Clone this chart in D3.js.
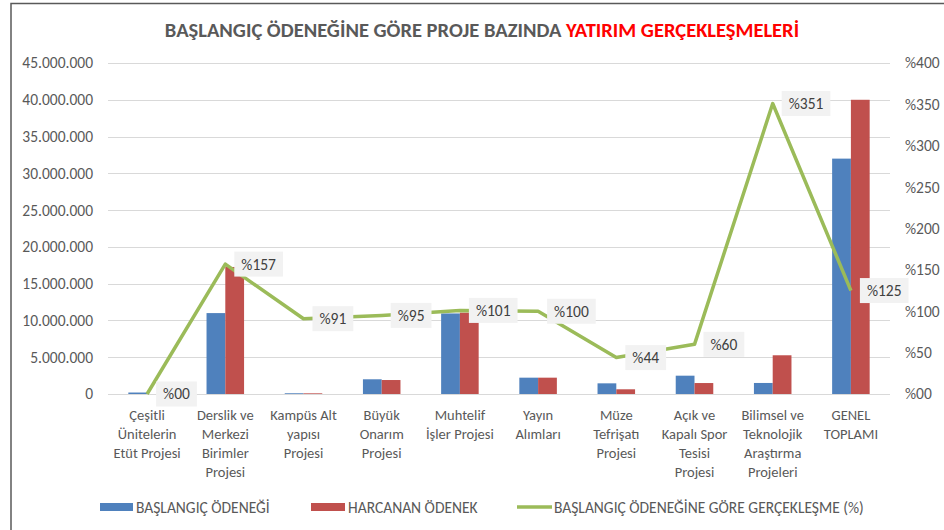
<!DOCTYPE html>
<html>
<head>
<meta charset="utf-8">
<script src="https://cdn.jsdelivr.net/npm/d3@7"></script>
<style>
  body { margin: 0; background: #fff; }
  svg text { font-family: Carlito, Lato, "Open Sans", sans-serif; }
</style>
</head>
<body>
<div id="chart"></div>
<script>
// kategoriler (satır kırılımları resimdeki gibi)
const categories = [
  ["Çeşitli", "Ünitelerin", "Etüt Projesi"],
  ["Derslik ve", "Merkezi", "Birimler", "Projesi"],
  ["Kampüs Alt", "yapısı", "Projesi"],
  ["Büyük", "Onarım", "Projesi"],
  ["Muhtelif", "İşler Projesi"],
  ["Yayın", "Alımları"],
  ["Müze", "Tefrişatı", "Projesi"],
  ["Açık ve", "Kapalı Spor", "Tesisi", "Projesi"],
  ["Bilimsel ve", "Teknolojik", "Araştırma", "Projeleri"],
  ["GENEL", "TOPLAMI"],
];
const baslangic = [200000, 11000000, 100000, 2000000, 10950000, 2220000, 1450000, 2490000, 1500000, 32000000];
const harcanan = [0, 17270000, 91000, 1900000, 11060000, 2220000, 640000, 1490000, 5265000, 40000000];
const yuzde = [0, 157, 91, 95, 101, 100, 44, 60, 351, 125];
const leftTicks = [0, 5e6, 10e6, 15e6, 20e6, 25e6, 30e6, 35e6, 40e6, 45e6];
const rightTicks = [0, 50, 100, 150, 200, 250, 300, 350, 400];
const legendNames = ["BAŞLANGIÇ ÖDENEĞİ", "HARCANAN ÖDENEK", "BAŞLANGIÇ ÖDENEĞİNE GÖRE GERÇEKLEŞME (%)"];

const W = 944, H = 530;
const BLUE = "#4f81bd", RED = "#c0504d", GREEN = "#9bbb59", GREY = "#595959";

const svg = d3.select("#chart").append("svg").attr("width", W).attr("height", H);

// çerçeve
svg.append("path")
  .attr("d", "M11,540 L11,3.5 L950,3.5")
  .attr("fill", "none").attr("stroke", "#595959").attr("stroke-width", 1.5);

// başlık
const title = svg.append("text")
  .attr("x", 482).attr("y", 37)
  .attr("text-anchor", "middle")
  .attr("font-size", 20.5).attr("font-weight", "bold");
title.append("tspan").attr("fill", GREY).text("BAŞLANGIÇ ÖDENEĞİNE GÖRE PROJE BAZINDA ");
title.append("tspan").attr("fill", "#ff0000").text("YATIRIM GERÇEKLEŞMELERİ");

const idx = d3.range(categories.length);
const x = d3.scaleBand().domain(idx).range([108, 890]);
const y = d3.scaleLinear().domain([0, 45e6]).range([394, 63]);
const y2 = d3.scaleLinear().domain([0, 400]).range([394, 63]);
const sub = d3.scaleBand().domain(["b", "h"]).range([0, x.bandwidth() * 0.48]);
const off = (x.bandwidth() - x.bandwidth() * 0.48) / 2;

const fmt = d3.formatLocale({ decimal: ",", thousands: ".", grouping: [3], currency: ["", ""] }).format(",d");

// ızgara
svg.append("g").selectAll("line").data(leftTicks).join("line")
  .attr("x1", 108).attr("x2", 890)
  .attr("y1", d => Math.round(y(d)) + 0.5).attr("y2", d => Math.round(y(d)) + 0.5)
  .attr("stroke", "#d9d9d9").attr("stroke-width", 1);

// eksenler
const leftAxis = svg.append("g").attr("transform", "translate(100,0)")
  .call(d3.axisLeft(y).tickValues(leftTicks).tickFormat(fmt).tickSize(0).tickPadding(7));
const rightAxis = svg.append("g").attr("transform", "translate(898,0)")
  .call(d3.axisRight(y2).tickValues(rightTicks).tickFormat(d => "%" + (d === 0 ? "00" : d)).tickSize(0).tickPadding(7));
[leftAxis, rightAxis].forEach(a => {
  a.select(".domain").remove();
  a.selectAll("text").attr("font-size", 15.5).attr("fill", GREY);
});

// çubuklar
const groups = svg.append("g").selectAll("g").data(idx).join("g")
  .attr("transform", i => `translate(${x(i) + off},0)`);
groups.append("rect")
  .attr("x", sub("b")).attr("width", sub.bandwidth())
  .attr("y", i => y(baslangic[i])).attr("height", i => y(0) - y(baslangic[i]))
  .attr("fill", BLUE);
groups.append("rect")
  .attr("x", sub("h")).attr("width", sub.bandwidth())
  .attr("y", i => y(harcanan[i])).attr("height", i => y(0) - y(harcanan[i]))
  .attr("fill", RED);

// çizgi
const cx = i => x(i) + x.bandwidth() / 2;
svg.append("path")
  .datum(idx)
  .attr("d", d3.line().x(cx).y(i => y2(yuzde[i])))
  .attr("fill", "none").attr("stroke", GREEN).attr("stroke-width", 3.5)
  .attr("stroke-linejoin", "round");

// veri etiketleri
const labels = svg.append("g").selectAll("g").data(idx).join("g")
  .attr("transform", i => `translate(${cx(i) + 9},${y2(yuzde[i])})`);
labels.append("rect").attr("fill", "#f2f2f2").attr("y", -12.5).attr("height", 25);
labels.append("text")
  .attr("x", 7).attr("dy", "0.35em")
  .attr("font-size", 15.5).attr("fill", "#404040")
  .text(i => "%" + (yuzde[i] === 0 ? "00" : yuzde[i]));
labels.each(function () {
  const g = d3.select(this);
  const w = g.select("text").node().getComputedTextLength();
  g.select("rect").attr("width", w + 14);
});

// kategori etiketleri
const cat = svg.append("g").selectAll("text").data(idx).join("text")
  .attr("x", cx).attr("y", 420)
  .attr("text-anchor", "middle").attr("font-size", 14.5).attr("fill", GREY);
cat.selectAll("tspan").data(i => categories[i]).join("tspan")
  .attr("x", function () { return d3.select(this.parentNode).attr("x"); })
  .attr("dy", (d, j) => j === 0 ? 0 : 19)
  .text(d => d);

// lejant
const leg = svg.append("g");
const legX = [100, 311, 517];
leg.append("rect").attr("x", legX[0]).attr("y", 503).attr("width", 33).attr("height", 8).attr("fill", BLUE);
leg.append("rect").attr("x", legX[1]).attr("y", 503).attr("width", 34).attr("height", 8).attr("fill", RED);
leg.append("line").attr("x1", legX[2]).attr("x2", legX[2] + 35).attr("y1", 507).attr("y2", 507)
  .attr("stroke", GREEN).attr("stroke-width", 3.5);
leg.selectAll("text").data(legendNames).join("text")
  .attr("x", (d, i) => [136, 348, 554][i]).attr("y", 512.5)
  .attr("font-size", 15.5).attr("fill", GREY)
  .text(d => d);
</script>
</body>
</html>
